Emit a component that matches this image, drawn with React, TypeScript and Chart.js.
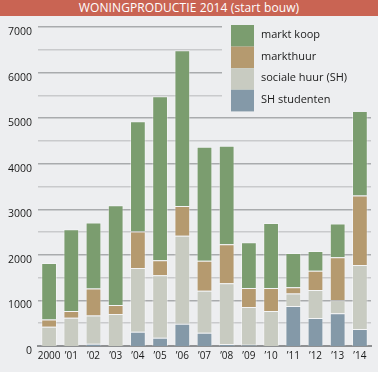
import React, { useEffect, useRef } from "react";
import { Chart, registerables } from "chart.js";

Chart.register(...registerables);

const categories = ["2000", "’01", "’02", "’03", "’04", "’05", "’06", "’07", "’08", "’09", "’10", "’11", "’12", "’13", "’14"];
const shStudenten = [0, 0, 50, 0, 310, 180, 490, 290, 45, 25, 0, 880, 615, 720, 375];
const socialeHuur = [420, 620, 620, 700, 1400, 1370, 1930, 920, 1330, 830, 770, 270, 615, 285, 1405];
const marktHuur = [160, 150, 590, 200, 800, 330, 650, 660, 860, 420, 500, 140, 420, 945, 1525];
const marktKoop = [1240, 1790, 1450, 2190, 2420, 3600, 3420, 2500, 2160, 1000, 1430, 750, 435, 740, 1890];
const seriesNames = ["markt koop", "markthuur", "sociale huur (SH)", "SH studenten"];
const seriesColors = ["#7b9d6f", "#b59a6f", "#c8cbc1", "#8499a8"];
const yMax = 7000;

const BG = "#edeef0";
const FONT = "'Open Sans', sans-serif";

const legendPlugin = {
  id: "customLegend",
  afterDraw(chart: any) {
    const ctx = chart.ctx;
    ctx.save();
    ctx.fillStyle = BG;
    ctx.fillRect(222, 18, 156, 94);
    const x0 = 231;
    const top = 25;
    const h = 21.6;
    seriesNames.forEach((name, i) => {
      ctx.fillStyle = seriesColors[i];
      ctx.fillRect(x0, top + i * h, 23, h);
      ctx.fillStyle = "#1a1a1a";
      ctx.font = `11px ${FONT}`;
      ctx.textBaseline = "middle";
      ctx.textAlign = "left";
      ctx.fillText(name, 261, top + i * h + h / 2 - 1);
    });
    ctx.restore();
  },
};

export default function App() {
  const ref = useRef<HTMLCanvasElement | null>(null);
  useEffect(() => {
    if (!ref.current) return;
    const border = "rgba(255,255,255,0.35)";
    const chart = new Chart(ref.current, {
      type: "bar",
      data: {
        labels: categories,
        datasets: [
          { label: seriesNames[3], data: shStudenten, backgroundColor: seriesColors[3], borderColor: border, borderWidth: 1 },
          { label: seriesNames[2], data: socialeHuur, backgroundColor: seriesColors[2], borderColor: border, borderWidth: 1 },
          { label: seriesNames[1], data: marktHuur, backgroundColor: seriesColors[1], borderColor: border, borderWidth: 1 },
          { label: seriesNames[0], data: marktKoop, backgroundColor: seriesColors[0], borderColor: border, borderWidth: 1 },
        ],
      },
      options: {
        animation: false,
        responsive: false,
        maintainAspectRatio: false,
        layout: { padding: { top: 27, right: 7, left: 0, bottom: 0 } },
        plugins: { legend: { display: false }, tooltip: { enabled: false }, title: { display: false } },
        datasets: { bar: { categoryPercentage: 1, barPercentage: 0.71 } },
        scales: {
          x: {
            stacked: true,
            grid: { display: false, drawTicks: false },
            border: { display: true, color: "#8e9092", width: 2 },
            ticks: { color: "#1a1a1a", font: { family: FONT, size: 10 }, padding: 4, maxRotation: 0, autoSkip: false },
            afterFit: (s: any) => { s.height = 26; },
          },
          y: {
            stacked: true,
            min: 0,
            max: yMax,
            grid: {
              drawTicks: false,
              color: (c: any) => (c.tick && c.tick.value % 1000 === 0 ? "#a9abad" : "#c9cacc"),
              lineWidth: (c: any) => (c.tick && c.tick.value === 0 ? 0 : 1.5),
            },
            border: { display: false },
            ticks: {
              stepSize: 500,
              autoSkip: false,
              padding: 6,
              labelOffset: 5,
              color: "#1a1a1a",
              font: { family: FONT, size: 10.5 },
              callback: (v: any) => (Number(v) % 1000 === 0 ? String(v) : ""),
            },
            afterFit: (s: any) => { s.width = 38; },
          },
        },
      },
      plugins: [legendPlugin],
    });
    return () => chart.destroy();
  }, []);

  return (
    <div style={{ position: "fixed", left: 0, top: 0, width: 378, height: 372, background: BG, overflow: "hidden" }}>
      <canvas ref={ref} width={378} height={372} style={{ position: "absolute", left: 0, top: 0, width: 378, height: 372 }} />
      <div
        style={{
          position: "absolute",
          left: 0,
          top: 0,
          width: 378,
          height: 16,
          background: "#c96453",
          color: "#ffffff",
          font: `12px ${FONT}`,
          letterSpacing: "0.1px",
          lineHeight: "16px",
          textAlign: "center",
        }}
      >
        WONINGPRODUCTIE 2014 (start bouw)
      </div>
    </div>
  );
}
